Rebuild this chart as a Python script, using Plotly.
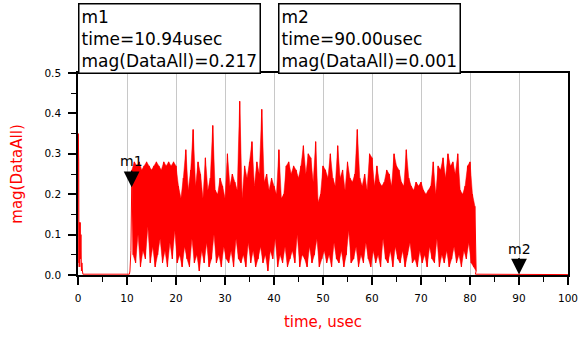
import plotly.graph_objects as go

# ---------------- data ----------------
head_t = [0.0, 0.05, 0.1, 0.15, 0.2, 0.3, 0.35, 0.45, 0.5, 0.6, 0.7, 0.8, 0.9, 1.0]
head_v = [0.02, 0.35, 0.04, 0.28, 0.03, 0.13, 0.02, 0.13, 0.04, 0.10, 0.01, 0.03, 0.01, 0.002]

quiet_t = [1.0, 10.5, 10.6, 10.8]
quiet_v = [0.002, 0.002, 0.01, 0.06]

noise_start = 11.0
noise_step = 0.5
upper = [0.26, 0.28, 0.27, 0.28, 0.26, 0.27, 0.28, 0.27, 0.26, 0.27,
         0.28, 0.27, 0.26, 0.28, 0.27, 0.28, 0.27, 0.28, 0.27, 0.22,
         0.19, 0.24, 0.31, 0.21, 0.26, 0.36, 0.22, 0.28, 0.25, 0.19,
         0.29, 0.21, 0.24, 0.37, 0.21, 0.20, 0.24, 0.22, 0.19, 0.30,
         0.22, 0.25, 0.23, 0.21, 0.43, 0.19, 0.27, 0.24, 0.28, 0.33,
         0.22, 0.28, 0.25, 0.41, 0.23, 0.25, 0.21, 0.24, 0.22, 0.20,
         0.31, 0.19, 0.20, 0.27, 0.28, 0.25, 0.27, 0.26, 0.24, 0.27,
         0.32, 0.25, 0.30, 0.29, 0.23, 0.33, 0.18, 0.20, 0.27, 0.26,
         0.24, 0.30, 0.24, 0.22, 0.32, 0.24, 0.26, 0.21, 0.28, 0.24,
         0.23, 0.25, 0.36, 0.24, 0.22, 0.25, 0.21, 0.30, 0.29, 0.22,
         0.27, 0.23, 0.22, 0.23, 0.26, 0.25, 0.22, 0.30, 0.27, 0.26,
         0.23, 0.22, 0.31, 0.24, 0.22, 0.21, 0.23, 0.22, 0.23, 0.21,
         0.20, 0.21, 0.22, 0.28, 0.20, 0.27, 0.26, 0.29, 0.24, 0.30,
         0.27, 0.28, 0.25, 0.30, 0.21, 0.20, 0.22, 0.27, 0.28, 0.20,
         0.17]
lower = [0.05, 0.03, 0.10, 0.02, 0.06, 0.04, 0.12, 0.03, 0.07, 0.02,
         0.05, 0.09, 0.03, 0.06, 0.02, 0.08, 0.04, 0.11, 0.03, 0.05,
         0.02, 0.07, 0.04, 0.02, 0.09, 0.03, 0.05, 0.01, 0.06, 0.03,
         0.08, 0.02, 0.04, 0.10, 0.03, 0.05, 0.02, 0.07, 0.04, 0.03,
         0.06, 0.02, 0.09, 0.04, 0.03, 0.05, 0.02, 0.08, 0.03, 0.06,
         0.02, 0.04, 0.07, 0.03, 0.05, 0.01, 0.06, 0.04, 0.09, 0.02,
         0.05, 0.03, 0.07, 0.02, 0.04, 0.06, 0.03, 0.10, 0.02, 0.05,
         0.04, 0.02, 0.07, 0.03, 0.05, 0.09, 0.02, 0.04, 0.06, 0.03,
         0.05, 0.02, 0.08, 0.04, 0.03, 0.06, 0.02, 0.05, 0.11, 0.03,
         0.04, 0.07, 0.02, 0.05, 0.03, 0.08, 0.04, 0.02, 0.06, 0.03,
         0.05, 0.02, 0.09, 0.04, 0.03, 0.06, 0.02, 0.07, 0.04, 0.03,
         0.06, 0.02, 0.05, 0.08, 0.03, 0.04, 0.02, 0.06, 0.03, 0.05,
         0.02, 0.07, 0.04, 0.03, 0.09, 0.02, 0.05, 0.03, 0.06, 0.02,
         0.04, 0.07, 0.03, 0.05, 0.02, 0.06, 0.04, 0.08, 0.03, 0.02,
         0.01]

tail_t = [81.1, 100.0]
tail_v = [0.002, 0.001]

marker_names = ["m1", "m2"]
marker_t = [10.94, 90.00]
marker_v = [0.217, 0.001]

x_ticks = [0, 10, 20, 30, 40, 50, 60, 70, 80, 90, 100]
y_ticks = [0.0, 0.1, 0.2, 0.3, 0.4, 0.5]

# ---------------- build series ----------------
hi_t = [noise_start + noise_step * i for i in range(len(upper))]
lo_t = [t + noise_step / 2 for t in hi_t[:len(lower)]]

noise_t, noise_v = [], []
for th, hv, tl, lv in zip(hi_t, upper, lo_t, lower):
    noise_t += [th, tl]
    noise_v += [hv, lv]

t_all = head_t + quiet_t + noise_t + tail_t
v_all = head_v + quiet_v + noise_v + tail_v

RED = "#ff0000"
FONT = "DejaVu Sans, Verdana, sans-serif"

fig = go.Figure()
# solid band between the lower and upper envelopes of the burst
fig.add_trace(go.Scatter(x=lo_t, y=lower, mode="lines", line=dict(color=RED, width=0.5),
                         hoverinfo="skip", showlegend=False))
fig.add_trace(go.Scatter(x=hi_t, y=upper, mode="lines", line=dict(color=RED, width=0.5),
                         fill="tonexty", fillcolor=RED, hoverinfo="skip", showlegend=False))
# the full trace
fig.add_trace(go.Scatter(x=t_all, y=v_all, mode="lines",
                         line=dict(color=RED, width=1), hoverinfo="skip",
                         showlegend=False))

# marker triangles with labels
for name, mt, mv in zip(marker_names, marker_t, marker_v):
    fig.add_annotation(x=mt, y=mv, xref="x", yref="y", text=name,
                       showarrow=True, arrowhead=2, arrowsize=2.1,
                       arrowwidth=1.5, arrowcolor="black", ax=0, ay=-26,
                       standoff=0, font=dict(family=FONT, size=14, color="black"))

# readout boxes
box_x = [0.0, 0.408]
for bx, name, mt, mv in zip(box_x, marker_names, marker_t, marker_v):
    fig.add_annotation(
        xref="paper", yref="paper", x=bx, y=1.3465, xanchor="left", yanchor="top",
        text=f"{name}<br>time={mt:.2f}usec<br>mag(DataAll)={mv:.3f}",
        align="left", showarrow=False, bgcolor="white",
        bordercolor="black", borderwidth=1.5, borderpad=2,
        font=dict(family=FONT, size=17, color="black"))

fig.update_layout(
    width=579, height=337,
    margin=dict(l=78, r=11, t=73, b=62, autoexpand=False),
    paper_bgcolor="white", plot_bgcolor="white",
    font=dict(family=FONT, color="black"),
    xaxis=dict(range=[0, 100], tickvals=x_ticks, ticktext=[str(v) for v in x_ticks],
               automargin=False,
               showgrid=True, gridcolor="#c8c8c8", gridwidth=1,
               ticks="outside", ticklen=8, tickwidth=1.5, tickcolor="black",
               ticklabelstandoff=5,
               minor=dict(dtick=5, ticks="outside", ticklen=5, tickwidth=1, tickcolor="black", showgrid=False),
               showline=True, linecolor="black", linewidth=1.5, mirror=True,
               zeroline=False, tickfont=dict(size=10.5, color="black"),
               title=dict(text="time, usec", font=dict(size=15, color=RED), standoff=13)),
    yaxis=dict(range=[0, 0.5], tickvals=y_ticks, ticktext=[f"{v:.1f}" for v in y_ticks],
               automargin=False,
               showgrid=False,
               ticks="outside", ticklen=8, tickwidth=1.5, tickcolor="black",
               ticklabelstandoff=5,
               minor=dict(dtick=0.05, ticks="outside", ticklen=5, tickwidth=1, tickcolor="black", showgrid=False),
               showline=True, linecolor="black", linewidth=1.5, mirror=True,
               zeroline=False, tickfont=dict(size=10.5, color="black"),
               title=dict(text="mag(DataAll)", font=dict(size=15, color=RED), standoff=18)),
)

# remove the default 8px page margin so the figure fills the window exactly
fig.write_html("out.html", config={"displayModeBar": False},
               post_script="document.body.style.margin='0';")
